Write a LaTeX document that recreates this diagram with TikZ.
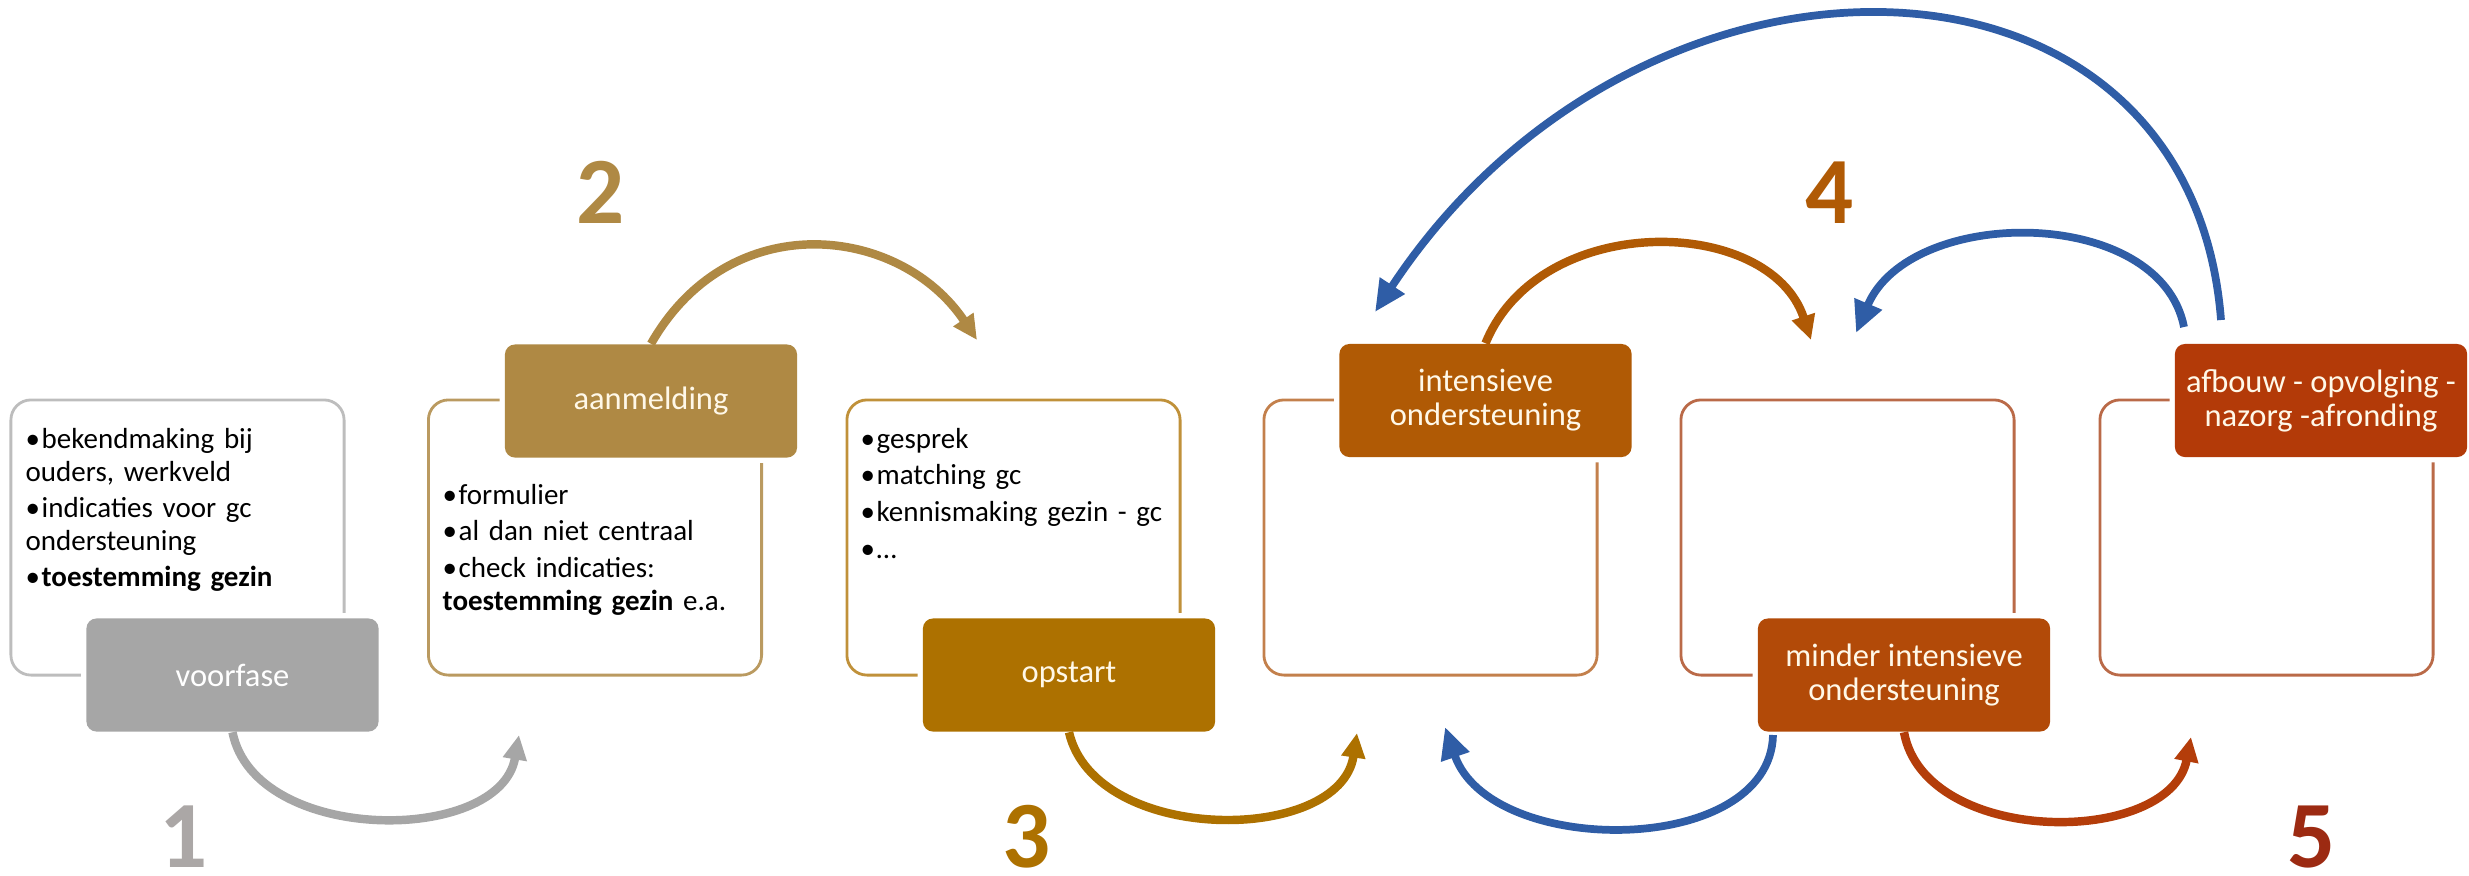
\documentclass[tikz,border=0pt]{standalone}
\usepackage{fontspec}
\setmainfont{Carlito}
\usetikzlibrary{arrows.meta}
\definecolor{g1f}{HTML}{A6A6A6}
\definecolor{g1o}{HTML}{BDBDBD}
\definecolor{g1n}{HTML}{ABA7A6}
\definecolor{c2f}{HTML}{AF8944}
\definecolor{c2o}{HTML}{BA9A60}
\definecolor{c3f}{HTML}{AD7100}
\definecolor{c3o}{HTML}{C0913A}
\definecolor{c4f}{HTML}{B05A05}
\definecolor{c4o}{HTML}{C3804C}
\definecolor{c5f}{HTML}{B24A08}
\definecolor{c6f}{HTML}{B33A08}
\definecolor{c5o}{HTML}{BA6A48}
\definecolor{c5n}{HTML}{9C2A12}
\definecolor{c5a}{HTML}{B43D0A}
\definecolor{bluea}{HTML}{2F5DA6}
\definecolor{labtxt}{HTML}{FFF8E8}
\newcommand{\bitem}[1]{\par\noindent\hangindent=0.55em\hangafter=1\makebox[0.55em][l]{\textbullet}#1\par\vspace{1.1pt}}
\tikzset{
  outl/.style={draw=#1, line width=0.8pt, rounded corners=0.2cm, minimum width=3.33cm, minimum height=2.75cm, inner sep=0pt},
  lab/.style={fill=#1, preaction={draw=white, line width=3pt}, rounded corners=0.1cm, minimum width=2.92cm, minimum height=1.13cm, inner sep=0pt, text=labtxt, font=\fontsize{9.25pt}{9.7pt}\selectfont, align=center},
  bul/.style={anchor=north west, inner sep=0pt, text width=3.1cm, align=left, font=\fontsize{8.25pt}{9.3pt}\selectfont},
  num/.style={text=#1, inner sep=0pt, font=\fontsize{27pt}{28pt}\selectfont\bfseries},
  arr/.style={draw=#1, line width=2.4pt, -{Triangle[length=7pt,width=6.5pt]}},
  barr/.style={draw=bluea, line width=2.2pt, -{Triangle[length=9pt,width=8pt]}}
}
\begin{document}
\begin{tikzpicture}[x=0.01cm, y=-0.01cm]
\useasboundingbox (0,0) rectangle (2469,875);
% outline boxes
\node[outl=g1o] (o1) at (177.5,537.5) {};
\node[outl=c2o] (o2) at (595,537.5) {};
\node[outl=c3o] (o3) at (1013.5,537.5) {};
\node[outl=c4o] (o4) at (1430.5,537.5) {};
\node[outl=c5o] (o5) at (1847.5,537.5) {};
\node[outl=c5o] (o6) at (2266.5,537.5) {};
% bullet texts
\node[bul] (t1) at (25,415) {\bitem{bekendmaking bij\\ouders, werkveld}\bitem{indicaties voor gc\\ondersteuning}\bitem{\textbf{toestemming gezin}}};
\node[bul] (t2) at (442,471) {\bitem{formulier}\bitem{al dan niet centraal}\bitem{check indicaties:\\\textbf{toestemming gezin} e.a.}};
\node[bul] (t3) at (860,415) {\bitem{gesprek}\bitem{matching gc}\bitem{kennismaking gezin - gc}\bitem{\dots}};
% label boxes
\node[lab=g1f, text=white] (f1) at (232.5,675) {voorfase};
\node[lab=c2f] (f2) at (651,401) {aanmelding};
\node[lab=c3f] (f3) at (1069,675) {opstart};
\node[lab=c4f] (f4) at (1485.5,400.5) {intensieve\\ondersteuning};
\node[lab=c5f] (f5) at (1904,675) {minder intensieve\\ondersteuning};
\node[lab=c6f] (f6) at (2321,400.5) {afbouw - opvolging -\\nazorg -afronding};
% numbers
\node[num=g1n] (n1) at (184,837) {1};
\node[num=c2f] (n2) at (601,192) {2};
\node[num=c3f] (n3) at (1027,837) {3};
\node[num=c4f] (n4) at (1830,193) {4};
\node[num=c5n] (n5) at (2312,837) {5};
% arrow end coordinates
\coordinate (a1e) at (519,735);
\coordinate (a2e) at (977,340);
\coordinate (a3e) at (1357,733);
\coordinate (a4e) at (1811,340);
\coordinate (a5e) at (2191,737);
\coordinate (b1s) at (1773,735);
\coordinate (b1e) at (1445,727);
\coordinate (b2s) at (2184,327);
\coordinate (b2e) at (1856,333);
\coordinate (b3s) at (2221,320);
\coordinate (b3e) at (1375,312);
% arrows
\draw[arr=g1f] (f1.south) .. controls (255,845) and (500,845) .. (a1e);
\draw[arr=c2f] (f2.north) .. controls (730,205) and (900,225) .. (a2e);
\draw[arr=c3f] (f3.south) .. controls (1095,845) and (1340,845) .. (a3e);
\draw[arr=c4f] (f4.north) .. controls (1540,210) and (1770,215) .. (a4e);
\draw[arr=c5a] (f5.south) .. controls (1925,847) and (2170,847) .. (a5e);
\draw[barr] (b1s) .. controls (1770,858) and (1490,858) .. (b1e);
\draw[barr] (b2s) .. controls (2160,205) and (1910,205) .. (b2e);
\draw[barr] (b3s) .. controls (2190,-80) and (1640,-90) .. (b3e);
\end{tikzpicture}
\end{document}
